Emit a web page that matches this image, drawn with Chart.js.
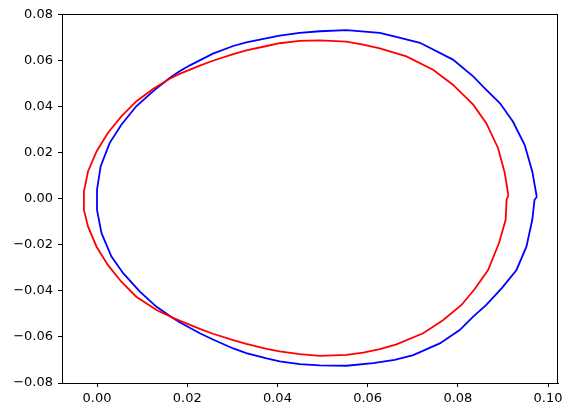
<!DOCTYPE html>
<html>
<head>
<meta charset="utf-8">
<script src="https://cdn.jsdelivr.net/npm/chart.js"></script>
<style>
  body { margin: 0; background: #fff; }
  canvas { display: block; }
</style>
</head>
<body>
<canvas id="myChart" width="573" height="417"></canvas>
<script>
// outer curve (blue), starting at the right, going anticlockwise, closed
const blueX = [0.0975, 0.0965, 0.0948, 0.0922, 0.0893, 0.0862, 0.0834, 0.0789, 0.0716, 0.0670,
  0.0627, 0.0553, 0.0494, 0.0449, 0.0405, 0.0361, 0.0331, 0.0302, 0.0257, 0.0206,
  0.0183, 0.0161, 0.0124, 0.0087, 0.0054, 0.0028, 0.0008, 0.0000, 0.0000, 0.0010,
  0.0032, 0.0058, 0.0095, 0.0132, 0.0169, 0.0183, 0.0228, 0.0257, 0.0302, 0.0331,
  0.0376, 0.0405, 0.0449, 0.0494, 0.0553, 0.0612, 0.0660, 0.0701, 0.0760, 0.0804,
  0.0834, 0.0863, 0.0897, 0.0930, 0.0952, 0.0965, 0.0970, 0.0975];
const blueY = [0.0008, 0.0119, 0.0235, 0.0336, 0.0416, 0.0476, 0.0532, 0.0605, 0.0678, 0.0700,
  0.0721, 0.0733, 0.0728, 0.0721, 0.0709, 0.0692, 0.0680, 0.0664, 0.0631, 0.0580,
  0.0554, 0.0525, 0.0467, 0.0402, 0.0322, 0.0242, 0.0141, 0.0039, -0.0048, -0.0149,
  -0.0251, -0.0323, -0.0403, -0.0469, -0.0519, -0.0536, -0.0584, -0.0611, -0.0650, -0.0670,
  -0.0693, -0.0706, -0.0718, -0.0723, -0.0725, -0.0714, -0.0700, -0.0679, -0.0628, -0.0570,
  -0.0512, -0.0461, -0.0389, -0.0309, -0.0208, -0.0091, -0.0004, 0.0008];

// inner curve (red), same direction, closed
const redX = [0.0912, 0.0904, 0.0889, 0.0863, 0.0834, 0.0789, 0.0745, 0.0686, 0.0627, 0.0590,
  0.0553, 0.0494, 0.0449, 0.0405, 0.0376, 0.0331, 0.0302, 0.0257, 0.0228, 0.0183,
  0.0161, 0.0124, 0.0087, 0.0054, 0.0024, -0.0001, -0.0020, -0.0029, -0.0029, -0.0020,
  -0.0001, 0.0024, 0.0054, 0.0087, 0.0132, 0.0169, 0.0183, 0.0228, 0.0257, 0.0302,
  0.0331, 0.0376, 0.0405, 0.0449, 0.0494, 0.0553, 0.0590, 0.0627, 0.0664, 0.0723,
  0.0767, 0.0808, 0.0837, 0.0867, 0.0891, 0.0906, 0.0908, 0.0912];
const redY = [0.0015, 0.0112, 0.0221, 0.0329, 0.0409, 0.0496, 0.0561, 0.0619, 0.0654, 0.0670,
  0.0683, 0.0688, 0.0686, 0.0676, 0.0664, 0.0645, 0.0629, 0.0600, 0.0579, 0.0543,
  0.0522, 0.0477, 0.0423, 0.0358, 0.0286, 0.0206, 0.0119, 0.0032, -0.0048, -0.0120,
  -0.0208, -0.0287, -0.0360, -0.0425, -0.0483, -0.0517, -0.0529, -0.0565, -0.0586, -0.0614,
  -0.0630, -0.0652, -0.0663, -0.0675, -0.0682, -0.0678, -0.0668, -0.0653, -0.0632, -0.0584,
  -0.0527, -0.0461, -0.0393, -0.0309, -0.0193, -0.0091, -0.0004, 0.0015];

const xTicks = [0, 0.02, 0.04, 0.06, 0.08, 0.10];
const xTickLabels = ['0.00', '0.02', '0.04', '0.06', '0.08', '0.10'];
const yTicks = [-0.08, -0.06, -0.04, -0.02, 0, 0.02, 0.04, 0.06, 0.08];
const yTickLabels = ['\u22120.08', '\u22120.06', '\u22120.04', '\u22120.02', '0.00', '0.02', '0.04', '0.06', '0.08'];

const toPoints = (xs, ys) => xs.map((x, i) => ({x: x, y: ys[i]}));

// box round the plot area, like matplotlib's spines
const frame = {
  id: 'frame',
  afterDraw(chart) {
    const a = chart.chartArea, ctx = chart.ctx;
    ctx.save();
    ctx.strokeStyle = '#000';
    ctx.lineWidth = 1;
    ctx.strokeRect(Math.round(a.left) + 0.5, Math.round(a.top) + 0.5,
      Math.round(a.right - a.left) - 1, Math.round(a.bottom - a.top));
    ctx.restore();
  }
};

const fontSpec = {family: 'DejaVu Sans', size: 13};

new Chart(document.getElementById('myChart'), {
  type: 'scatter',
  data: {
    datasets: [
      {
        label: 'red',
        data: toPoints(redX, redY),
        showLine: true,
        borderColor: '#ff0000',
        borderWidth: 1.8,
        pointRadius: 0,
        tension: 0,
        fill: false,
        order: 0
      },
      {
        label: 'blue',
        data: toPoints(blueX, blueY),
        showLine: true,
        borderColor: '#0000ff',
        borderWidth: 1.8,
        pointRadius: 0,
        tension: 0,
        fill: false,
        order: 1
      }
    ]
  },
  options: {
    responsive: false,
    animation: false,
    devicePixelRatio: 1,
    layout: {padding: {top: 14, right: 15, left: 0, bottom: 0}},
    plugins: {legend: {display: false}, tooltip: {enabled: false}},
    scales: {
      x: {
        type: 'linear',
        min: -0.00776,
        max: 0.1022,
        afterBuildTicks: (s) => { s.ticks = xTicks.map(v => ({value: v})); },
        afterFit: (s) => { s.height = 34; },
        border: {display: true, color: '#000', width: 1},
        grid: {display: true, drawOnChartArea: false, drawTicks: true, tickLength: 4, color: '#000'},
        ticks: {
          color: '#000',
          font: fontSpec,
          padding: 4,
          maxRotation: 0,
          autoSkip: false,
          callback: (v) => xTickLabels[xTicks.findIndex(t => Math.abs(t - v) < 1e-9)]
        }
      },
      y: {
        type: 'linear',
        min: -0.0800,
        max: 0.0803,
        afterBuildTicks: (s) => { s.ticks = yTicks.map(v => ({value: v})); },
        afterFit: (s) => { s.width = 62; },
        border: {display: true, color: '#000', width: 1},
        grid: {display: true, drawOnChartArea: false, drawTicks: true, tickLength: 4, color: '#000'},
        ticks: {
          color: '#000',
          font: fontSpec,
          padding: 5,
          autoSkip: false,
          callback: (v) => yTickLabels[yTicks.findIndex(t => Math.abs(t - v) < 1e-9)]
        }
      }
    }
  },
  plugins: [frame]
});
</script>
</body>
</html>
